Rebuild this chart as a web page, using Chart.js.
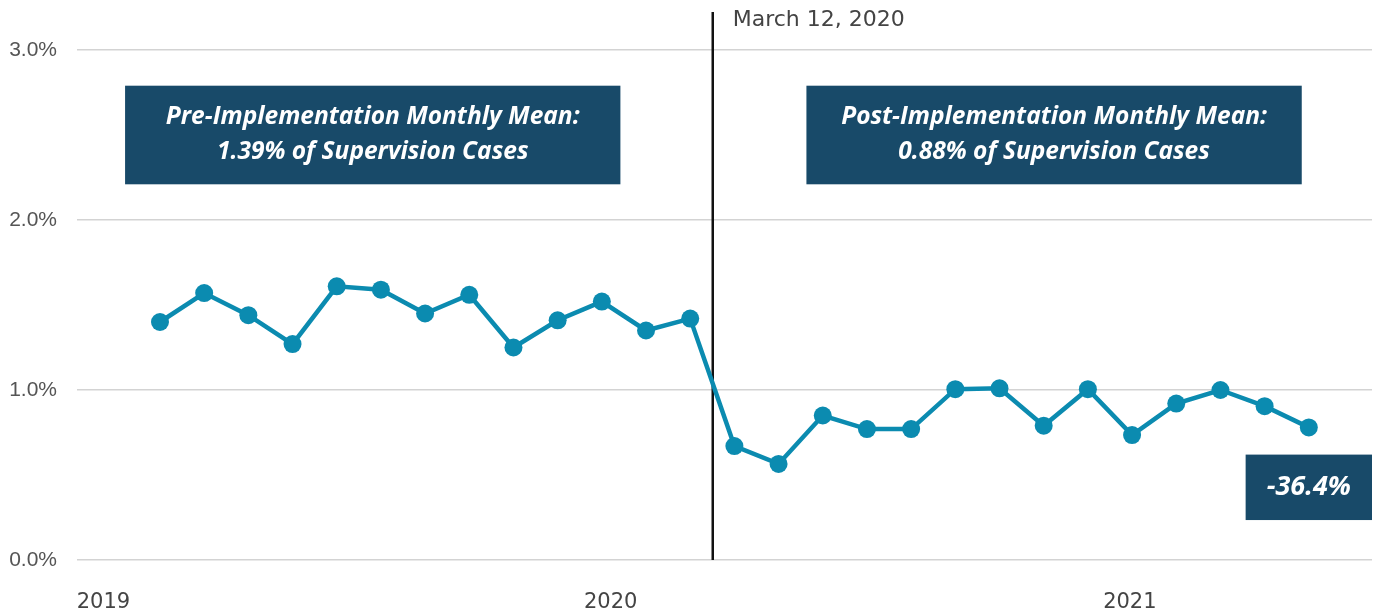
<!DOCTYPE html>
<html>
<head>
<meta charset="utf-8">
<script src="https://cdn.jsdelivr.net/npm/chart.js@4.4.1/dist/chart.umd.min.js"></script>
<style>
  html, body { margin: 0; padding: 0; background: #ffffff; }
  #wrap { width: 1381px; height: 615px; position: relative; }
</style>
</head>
<body>
<div id="wrap"><canvas id="c" width="1381" height="615"></canvas></div>
<script>
// ---- data ----
const monthIndex = [0,1,2,3,4,5,6,7,8,9,10,11,12,13,14,15,16,17,18,19,20,21,22,23,24,25,26];
// Mar 2019 ... May 2021 (percent of supervision cases)
const rateValues = [1.40,1.57,1.44,1.27,1.61,1.59,1.45,1.56,1.25,1.41,1.52,1.35,1.42,
                    0.67,0.565,0.85,0.77,0.77,1.005,1.01,0.79,1.005,0.735,0.92,1.00,0.905,0.78];
const yearLabels = ["2019","2020","2021"];
const yearTickPos = [-1.28, 10.2, 21.95];
const yTicks = [0, 1, 2, 3];
const eventPos = 12.51;
const eventLabel = "March 12, 2020";
const preBoxText = ["Pre-Implementation Monthly Mean:", "1.39% of Supervision Cases"];
const postBoxText = ["Post-Implementation Monthly Mean:", "0.88% of Supervision Cases"];
const changeText = "-36.4%";
// boxes in data coordinates [x0, x1, yTop, yBottom]
const preBox = [-0.79, 10.42, 2.79, 2.21];
const postBox = [14.63, 25.84, 2.79, 2.21];
const changeBox = [24.57, 27.43, 0.62, 0.235];

const LINE = '#0b8bb0';
const NAVY = '#184a69';
const AXIS_FONT = "'Liberation Sans', Arial, sans-serif";
const WIDE_FONT = "'DejaVu Sans', sans-serif";
const BOX_FONT = "'Open Sans', Roboto, sans-serif";

const overlay = {
  id: 'overlay',
  beforeDatasetsDraw(chart) {
    const {ctx, scales: {x, y}, chartArea} = chart;
    const ex = x.getPixelForValue(eventPos);
    ctx.save();
    ctx.strokeStyle = '#111';
    ctx.lineWidth = 2.5;
    ctx.beginPath();
    ctx.moveTo(ex, 12);
    ctx.lineTo(ex, chartArea.bottom);
    ctx.stroke();
    ctx.fillStyle = '#444';
    ctx.font = "22px " + WIDE_FONT;
    ctx.textBaseline = 'middle';
    ctx.textAlign = 'left';
    ctx.fillText(eventLabel, ex + 20, 20);
    ctx.restore();
  },
  afterDatasetsDraw(chart) {
    const {ctx, scales: {x, y}} = chart;
    function box(b, lines, size) {
      const x0 = x.getPixelForValue(b[0]), x1 = x.getPixelForValue(b[1]);
      const y0 = y.getPixelForValue(b[2]), y1 = y.getPixelForValue(b[3]);
      ctx.save();
      ctx.fillStyle = NAVY;
      ctx.fillRect(x0, y0, x1 - x0, y1 - y0);
      ctx.fillStyle = '#ffffff';
      ctx.font = "italic bold " + size + "px " + BOX_FONT;
      ctx.textAlign = 'center';
      ctx.textBaseline = 'middle';
      const cx = (x0 + x1) / 2, cy = (y0 + y1) / 2;
      const lh = 35;
      lines.forEach((t, i) => {
        ctx.fillText(t, cx, cy + (i - (lines.length - 1) / 2) * lh);
      });
      ctx.restore();
    }
    box(preBox, preBoxText, 24.5);
    box(postBox, postBoxText, 24.5);
    box(changeBox, [changeText], 27);
  }
};

new Chart(document.getElementById('c'), {
  type: 'line',
  data: {
    datasets: [{
      data: monthIndex.map((m, i) => ({x: m, y: rateValues[i]})),
      borderColor: LINE,
      backgroundColor: LINE,
      borderWidth: 4.5,
      pointRadius: 9,
      pointHoverRadius: 9,
      pointBackgroundColor: LINE,
      pointBorderWidth: 0,
      tension: 0
    }]
  },
  options: {
    responsive: false,
    animation: false,
    events: [],
    layout: { padding: { top: 50, right: 0, left: 0, bottom: 0 } },
    plugins: { legend: { display: false }, tooltip: { enabled: false } },
    scales: {
      x: {
        type: 'linear',
        min: -1.878,
        max: 27.43,
        afterBuildTicks(axis) { axis.ticks = yearTickPos.map(v => ({value: v})); },
        afterFit(axis) { axis.height = 55; },
        ticks: {
          callback: (v, i) => yearLabels[i],
          font: { family: WIDE_FONT, size: 21 },
          color: '#444',
          padding: 22,
          maxRotation: 0,
          autoSkip: false
        },
        grid: { display: false },
        border: { display: false }
      },
      y: {
        min: 0,
        max: 3,
        afterBuildTicks(axis) { axis.ticks = yTicks.map(v => ({value: v})); },
        afterFit(axis) { axis.width = 77; },
        ticks: {
          callback: v => v.toFixed(1) + '%',
          font: { family: AXIS_FONT, size: 21 },
          color: '#555',
          padding: 20
        },
        grid: { color: '#d3d3d3', lineWidth: 1.5, drawTicks: false },
        border: { display: false }
      }
    }
  },
  plugins: [overlay]
});
</script>
</body>
</html>
